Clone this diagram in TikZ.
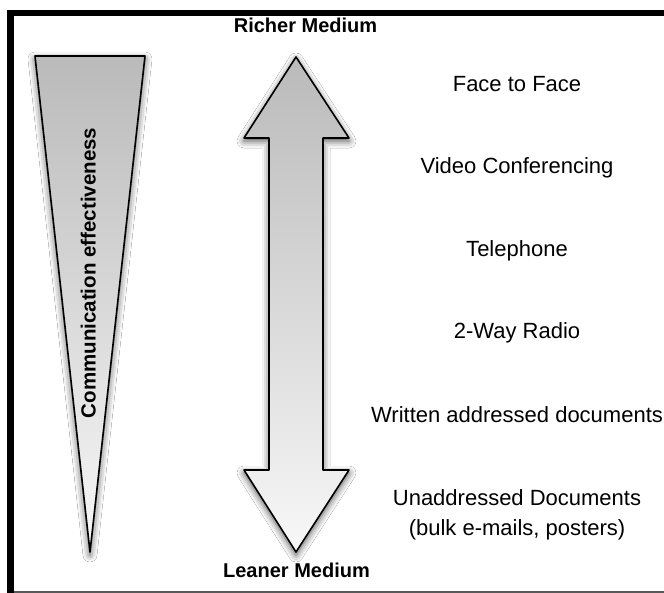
\documentclass[tikz,border=0pt]{standalone}
\usepackage{fontspec}
\setmainfont{Liberation Sans}
\usetikzlibrary{shadows.blur}
\begin{document}
\begin{tikzpicture}[x=1pt,y=-1pt,
  lbl/.style={font=\fontsize{22}{26}\selectfont, anchor=base, inner sep=0pt},
  ttl/.style={font=\fontsize{20}{24}\selectfont\bfseries, anchor=base, inner sep=0pt},
  solid shape/.style={draw=black, line width=1.6pt, line join=round,
    top color=black!27, bottom color=black!3,
    blur shadow={shadow xshift=0pt, shadow yshift=-3pt, shadow blur radius=7pt, shadow opacity=70}}]
  % page extent
  \useasboundingbox (0,0) rectangle (664,593);
  \fill[white] (0,0) rectangle (664,593);
  % frame
  \fill[black] (7,10) rectangle (664,16);
  \fill[black] (7,10) rectangle (14,593);
  \fill[black!65] (14,591) rectangle (664,593);

  % funnel: communication effectiveness
  \path[solid shape] (35,56) -- (145,56) -- (90,552) -- cycle;
  \node[ttl, font=\fontsize{20.5}{24}\selectfont\bfseries, rotate=90] (eff) at (95.5,273) {Communication effectiveness};

  % double-headed arrow: richer to leaner medium
  \path[solid shape] (296,57) -- (349,138) -- (323,138) -- (323,470) -- (349,470)
     -- (296,552) -- (244,470) -- (269,470) -- (269,138) -- (244,138) -- cycle;
  \node[ttl] (rich) at (305.5,33) {Richer Medium};
  \node[ttl] (lean) at (296.5,577) {Leaner Medium};

  % media
  \node[lbl] (f2f)   at (517,92)  {Face to Face};
  \node[lbl] (video) at (517,174) {Video Conferencing};
  \node[lbl] (tel)   at (517,257) {Telephone};
  \node[lbl] (radio) at (517,339) {2-Way Radio};
  \node[lbl] (writ)  at (517,423) {Written addressed documents};
  \node[lbl] (un1)   at (517,505) {Unaddressed Documents};
  \node[lbl] (un2)   at (517,535) {(bulk e-mails, posters)};
\end{tikzpicture}
\end{document}
